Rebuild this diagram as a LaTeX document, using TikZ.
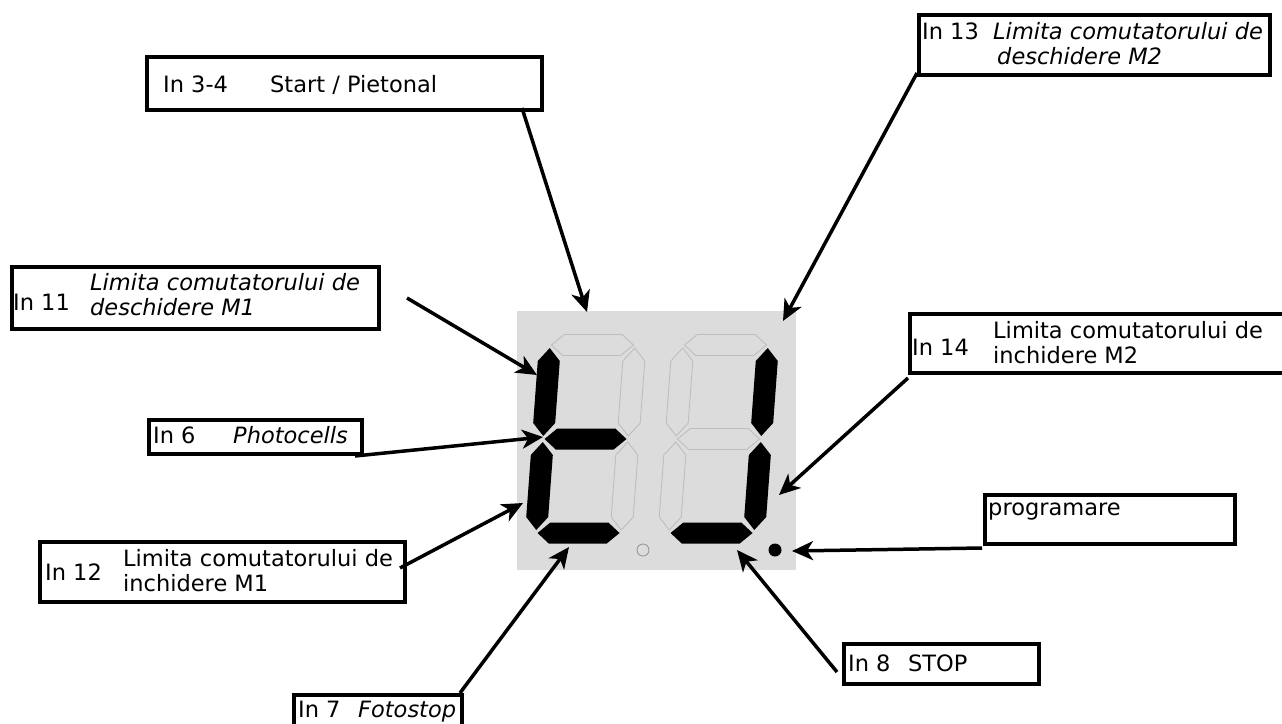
\documentclass[tikz,border=0pt]{standalone}
\usepackage{fontspec}
\setmainfont{DejaVu Sans}
\usetikzlibrary{arrows.meta}
\definecolor{lcd}{RGB}{220,220,220}
\definecolor{segoff}{RGB}{190,190,190}
\newcommand\hsegm[3]{\path[#1] ({#2-41},#3) -- ({#2-29},{#3-10.5}) -- ({#2+29},{#3-10.5}) -- ({#2+41},#3) -- ({#2+29},{#3+10.5}) -- ({#2-29},{#3+10.5}) -- cycle;}
\newcommand\vsegm[3]{\path[#1] (#2,{#3-44}) -- ({#2+11},{#3-31}) -- ({#2+11},{#3+31}) -- (#2,{#3+44}) -- ({#2-11},{#3+31}) -- ({#2-11},{#3-31}) -- cycle;}
\begin{document}
\begin{tikzpicture}[x=1pt,y=-1pt,
  lbox/.style={draw,line width=3.5pt,rectangle,inner sep=0pt,anchor=north west},
  lbl/.style={anchor=base west,inner sep=0pt,font=\fontsize{22.5}{25}\selectfont},
  ptr/.style={line width=3.5pt,-{Stealth[length=21pt,width=19pt,inset=6pt]}},
  segon/.style={fill=black},
  segoffst/.style={draw=segoff,line width=0.9pt},
]
\useasboundingbox (0,0) rectangle (1282,723);
\clip (0,0) rectangle (1282,723);

% display
\node[fill=lcd,rectangle,inner sep=0pt,minimum width=279pt,minimum height=259pt,anchor=north west] (lcd) at (517,311) {};
\begin{scope}[shift={(585.5,439)},xslant=0.074]
  \hsegm{segoffst}{0}{-94}
  \vsegm{segoffst}{42.5}{-47}
  \vsegm{segoffst}{42.5}{47}
  \vsegm{segon}{-42.5}{-47}
  \vsegm{segon}{-42.5}{47}
  \hsegm{segon}{0}{0}
  \hsegm{segon}{0}{94}
\end{scope}
\begin{scope}[shift={(718.5,439)},xslant=0.074]
  \hsegm{segoffst}{0}{-94}
  \hsegm{segoffst}{0}{0}
  \vsegm{segoffst}{-42.5}{-47}
  \vsegm{segoffst}{-42.5}{47}
  \vsegm{segon}{42.5}{-47}
  \vsegm{segon}{42.5}{47}
  \hsegm{segon}{0}{94}
\end{scope}
\draw[gray!80,line width=0.9pt] (643,550) circle[radius=6pt];
\fill[black] (775,550) circle[radius=6.5pt];

% boxes
\node[lbox,minimum width=395pt,minimum height=53pt] (b34) at (145,55) {};
\node[lbox,minimum width=351pt,minimum height=60pt] (b13) at (917,13) {};
\node[lbox,minimum width=367pt,minimum height=62pt] (b11) at (10,265) {};
\node[lbox,minimum width=400pt,minimum height=59pt] (b14) at (908,312) {};
\node[lbox,minimum width=213pt,minimum height=34pt] (b6) at (147,418) {};
\node[lbox,minimum width=365pt,minimum height=60pt] (b12) at (38,540) {};
\node[lbox,minimum width=250pt,minimum height=49pt] (bpr) at (983,493) {};
\node[lbox,minimum width=195pt,minimum height=40pt] (b8) at (842,642) {};
\node[lbox,minimum width=168pt,minimum height=60pt] (b7) at (292,693) {};

% labels
\node[lbl] (t34a) at (163,92) {In 3-4};
\node[lbl] (t34b) at (270,92) {Start / Pietonal};
\node[lbl] (t13a) at (922,39) {In 13};
\node[lbl] (t13b) at (993,39) {\itshape Limita comutatorului de};
\node[lbl] (t13c) at (997,64) {\itshape deschidere M2};
\node[lbl] (t11a) at (13,310) {In 11};
\node[lbl] (t11b) at (90,290) {\itshape Limita comutatorului de};
\node[lbl] (t11c) at (90,315) {\itshape deschidere M1};
\node[lbl] (t14a) at (912,355) {In 14};
\node[lbl] (t14b) at (993,338) {Limita comutatorului de};
\node[lbl] (t14c) at (993,363) {inchidere M2};
\node[lbl] (t6a) at (153,443) {In 6};
\node[lbl] (t6b) at (233,443) {\itshape Photocells};
\node[lbl] (t12a) at (45,580) {In 12};
\node[lbl] (t12b) at (123,566) {Limita comutatorului de};
\node[lbl] (t12c) at (123,591) {inchidere M1};
\node[lbl] (tpr) at (988,515) {programare};
\node[lbl] (t8a) at (848,671) {In 8};
\node[lbl] (t8b) at (908,671) {STOP};
\node[lbl] (t7a) at (298,717) {In 7};
\node[lbl] (t7b) at (358,717) {\itshape Fotostop};

% arrow ends
\coordinate (s34) at (522,108);  \coordinate (e34) at (587,312);
\coordinate (s13) at (917,73);   \coordinate (e13) at (783,321);
\coordinate (s11) at (407,298);  \coordinate (e11) at (537,375);
\coordinate (s6)  at (355,456);  \coordinate (e6)  at (543,437);
\coordinate (s12) at (400,568);  \coordinate (e12) at (523,503);
\coordinate (s7)  at (460,693);  \coordinate (e7)  at (569,547);
\coordinate (s8)  at (837,672);  \coordinate (e8)  at (737,550);
\coordinate (s14) at (908,378);  \coordinate (e14) at (779,495);
\coordinate (spr) at (982,548);  \coordinate (epr) at (792,551);

\draw[ptr] (s34) -- (e34);
\draw[ptr] (s13) -- (e13);
\draw[ptr] (s11) -- (e11);
\draw[ptr] (s6) -- (e6);
\draw[ptr] (s12) -- (e12);
\draw[ptr] (s7) -- (e7);
\draw[ptr] (s8) -- (e8);
\draw[ptr] (s14) -- (e14);
\draw[ptr] (spr) -- (epr);
\end{tikzpicture}
\end{document}
